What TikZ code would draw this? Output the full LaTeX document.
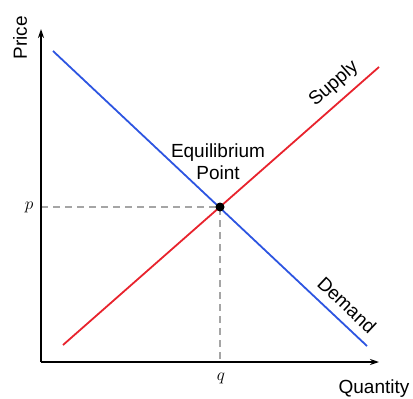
\documentclass[tikz,border=0pt]{standalone}
\usepackage{fontspec}
\setmainfont{Liberation Sans}
\usetikzlibrary{arrows.meta, positioning}
\definecolor{DB}{RGB}{45,85,225}
\definecolor{DR}{RGB}{232,35,45}
\definecolor{GR}{RGB}{165,165,165}

\begin{document}
\begin{tikzpicture}[
  x=1pt, y=-1pt,
  axis/.style={-{Stealth[length=9pt, width=6pt]}, line width=1.6pt, draw=black},
  curve/.style={line width=1.8pt, draw=#1},
  guide/.style={line width=1.5pt, draw=GR, dash pattern=on 7pt off 5pt},
  lbl/.style={font=\fontsize{19}{22}\selectfont, inner sep=0pt},
  sym/.style={font=\fontsize{19}{22}\selectfont\itshape, inner sep=0pt}
]
\useasboundingbox (0,0) rectangle (413,399);

% Axes and curve end points
\coordinate (O)    at (41,362);
\coordinate (ytip) at (41,29);
\coordinate (xtip) at (379,362);
\coordinate (d0)   at (53,51);
\coordinate (d1)   at (367,346);
\coordinate (s0)   at (63,345);
\coordinate (s1)   at (379,67);
\coordinate (pA)   at (41,207);
\coordinate (qA)   at (220,362);

\draw[guide] (pA)--(220,207)--(qA);
\draw[curve=DB] (d0)--(d1);
\draw[curve=DR] (s0)--(s1);
\draw[axis] (O)--(ytip);
\draw[axis] (O)--(xtip);
\node[circle, fill=black, inner sep=0pt, minimum size=9pt] (eq) at (220,207) {};

% Labels
\node[lbl, rotate=90] (price) at (20,38) {Price};
\node[lbl] (qty) at (374,389) {Quantity};
\node[sym] (p) at (29,207) {$p$};
\node[sym] (q) at (221,378) {$q$};
\node[lbl, align=center] (eqlbl) at (218,162) {Equilibrium\\Point};
\node[lbl, rotate=41.3] (sup) at (334,84) {Supply};
\node[lbl, rotate=-43.2] (dem) at (347,305) {Demand};
\end{tikzpicture}
\end{document}
